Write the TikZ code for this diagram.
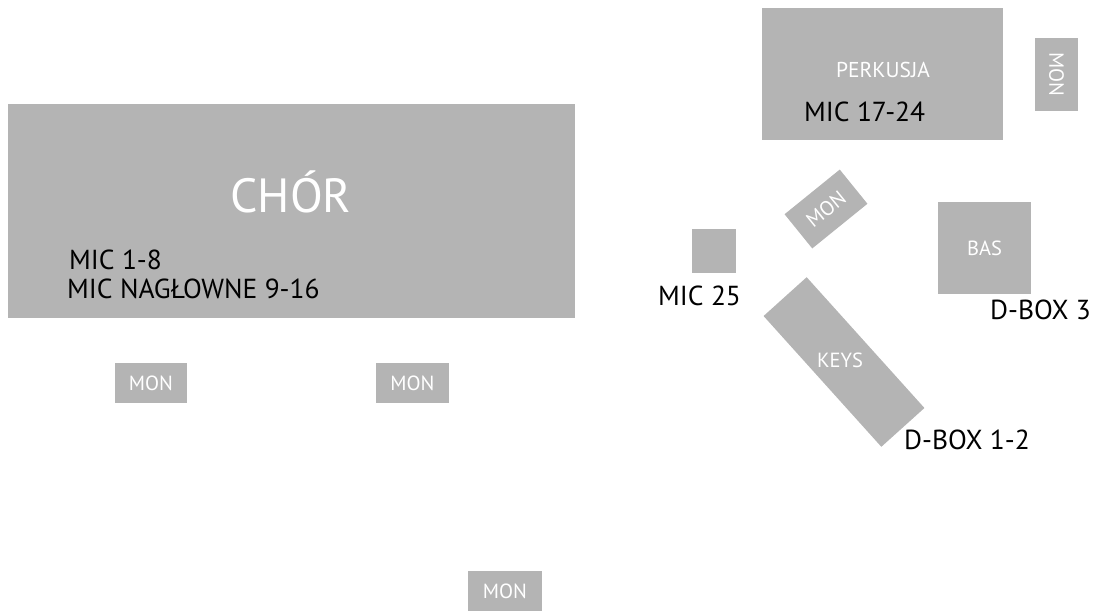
\documentclass[tikz,border=0pt]{standalone}
\usepackage{fontspec}
\setmainfont{PT Sans}
\definecolor{boxgray}{RGB}{180,180,180}
\tikzset{
  box/.style={fill=boxgray, draw=none, inner sep=0pt, anchor=center, text=white, font=\fontsize{20.5}{22}\selectfont},
  wlab/.style={text=white, inner sep=0pt, font=\fontsize{20.5}{22}\selectfont},
  blab/.style={text=black, inner sep=0pt, anchor=west, font=\fontsize{27.5}{30}\selectfont},
}
\begin{document}
\begin{tikzpicture}[x=1pt,y=-1pt]
\useasboundingbox (0,0) rectangle (1101,611);
% choir
\node[box, minimum width=567pt, minimum height=214pt] (chor) at (291.5,211) {};
\node[wlab, anchor=base, font=\fontsize{48}{52}\selectfont] (chort) at (291,212) {CHÓR};
\node[blab] (mic18) at (69,260) {MIC 1-8};
\node[blab] (mic916) at (67,289) {MIC NAGŁOWNE 9-16};
% monitors in front
\node[box, minimum width=72pt, minimum height=40pt] (mon1) at (151,383) {MON};
\node[box, minimum width=73pt, minimum height=40pt] (mon2) at (412.5,383) {MON};
\node[box, minimum width=74pt, minimum height=40pt] (mon3) at (505,591) {MON};
% drums
\node[box, minimum width=241pt, minimum height=132pt] (perk) at (882.5,74) {};
\node[wlab, font=\fontsize{21.5}{23}\selectfont] (perkt) at (883,70) {PERKUSJA};
\node[blab] (mic1724) at (804,111.5) {MIC 17-24};
\node[box, minimum width=73pt, minimum height=43pt, rotate=-90] (mon4) at (1056.5,74.5) {MON};
% angled monitor
\node[box, minimum width=71pt, minimum height=44pt, rotate=39] (mon5) at (826,209) {MON};
% mic 25
\node[box, minimum width=44pt, minimum height=44pt] (m25) at (714,251) {};
\node[blab] (m25t) at (658,296) {MIC 25};
% bass
\node[box, minimum width=93pt, minimum height=92pt] (bas) at (984.5,248) {BAS};
\node[blab] (db3) at (990,310) {D-BOX 3};
% keys
\node[box, minimum width=176pt, minimum height=58pt, rotate=-48] (keys) at (844,362) {};
\node[wlab] (keyst) at (840,360) {KEYS};
\node[blab] (db12) at (904,440) {D-BOX 1-2};
\end{tikzpicture}
\end{document}
